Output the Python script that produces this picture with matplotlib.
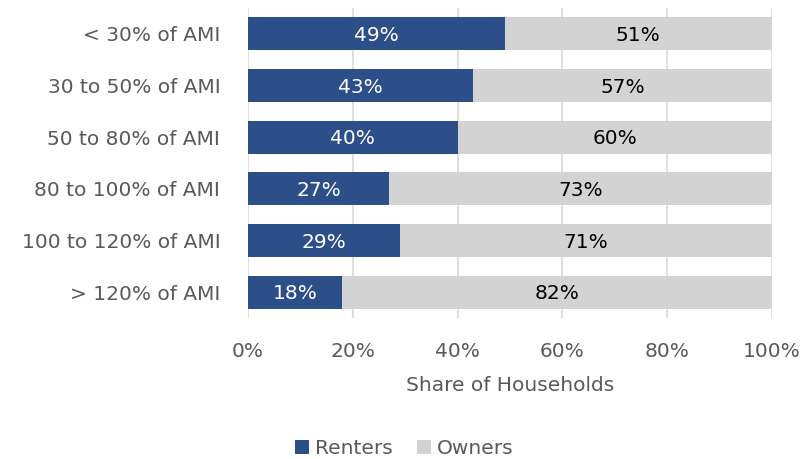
import matplotlib.pyplot as plt

categories = ["< 30% of AMI", "30 to 50% of AMI", "50 to 80% of AMI",
              "80 to 100% of AMI", "100 to 120% of AMI", "> 120% of AMI"]
renters = [49, 43, 40, 27, 29, 18]
owners = [51, 57, 60, 73, 71, 82]
x_ticks = [0, 20, 40, 60, 80, 100]

BLUE = "#2C4F8A"
GRAY = "#D3D3D3"
TEXT = "#595959"

plt.rcParams["font.family"] = ["DejaVu Sans"]
FS = 14.5

fig = plt.figure(figsize=(8.09, 4.59), dpi=100)
ax = fig.add_axes([0.3066, 0.307, 0.6476, 0.6756])

ypos = list(range(len(categories)))
ax.barh(ypos, renters, height=0.64, color=BLUE, label="Renters", zorder=2)
ax.barh(ypos, owners, left=renters, height=0.64, color=GRAY, label="Owners", zorder=2)

for y, r, o in zip(ypos, renters, owners):
    ax.text(r / 2, y + 0.03, f"{r}%", ha="center", va="center", color="white", fontsize=FS)
    ax.text(r + o / 2, y + 0.03, f"{o}%", ha="center", va="center", color="black", fontsize=FS)

ax.set_xlim(0, 100)
ax.set_ylim(len(categories) - 0.5, -0.5)
ax.set_yticks(ypos)
ax.set_yticklabels(categories, fontsize=FS, color=TEXT)
ax.set_xticks(x_ticks)
ax.set_xticklabels([f"{t}%" for t in x_ticks], fontsize=FS, color=TEXT)
ax.tick_params(axis="y", length=0, pad=20)
ax.tick_params(axis="x", length=0, pad=17)
ax.xaxis.grid(True, color="#D9D9D9", linewidth=1.2, zorder=0)
for s in ax.spines.values():
    s.set_visible(False)
ax.set_xlabel("Share of Households", fontsize=FS, color=TEXT, labelpad=11)

handles, labels = ax.get_legend_handles_labels()
leg = fig.legend(handles, labels, loc="lower center", bbox_to_anchor=(0.5, -0.038),
                 ncol=2, frameon=False, fontsize=FS, handlelength=0.7,
                 handleheight=0.7, handletextpad=0.3, columnspacing=1.2)
for t in leg.get_texts():
    t.set_color(TEXT)

fig.savefig("out.png", dpi=100)
